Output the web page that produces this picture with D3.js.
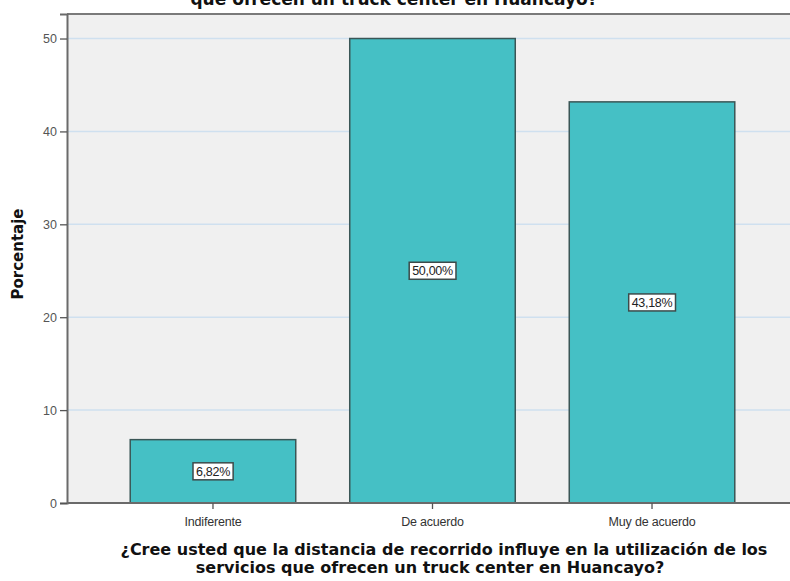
<!DOCTYPE html>
<html>
<head>
<meta charset="utf-8">
<script src="https://cdn.jsdelivr.net/npm/d3@7"></script>
<style>
  html, body { margin: 0; padding: 0; background: #ffffff; }
  svg { display: block; }
</style>
</head>
<body>
<div id="chart"></div>
<script>
// Response categories and their share of respondents (%)
const categories = ["Indiferente", "De acuerdo", "Muy de acuerdo"];
const percentages = [6.82, 50.00, 43.18];
const yTicks = [0, 10, 20, 30, 40, 50];
const titleLines = ["que ofrecen un truck center en Huancayo?"];
const xTitleLines = [
  "¿Cree usted que la distancia de recorrido influye en la utilización de los",
  "servicios que ofrecen un truck center en Huancayo?"
];
const yTitle = "Porcentaje";

const W = 790, H = 581;
const plot = { left: 67, right: 798, top: 14, bottom: 503 };

const svg = d3.select("#chart").append("svg")
  .attr("width", W).attr("height", H);

const x = d3.scaleBand()
  .domain(categories)
  .range([plot.left, plot.right])
  .paddingInner(0.246)
  .paddingOuter(0.288);

const y = d3.scaleLinear()
  .domain([0, 52.64])
  .range([plot.bottom, plot.top]);

// Plot background
svg.append("rect")
  .attr("x", plot.left).attr("y", plot.top)
  .attr("width", plot.right - plot.left)
  .attr("height", plot.bottom - plot.top)
  .attr("fill", "#f0f0f0");

// Horizontal grid lines
svg.append("g")
  .selectAll("line")
  .data(yTicks.filter(d => d > 0))
  .join("line")
  .attr("x1", plot.left).attr("x2", plot.right)
  .attr("y1", d => y(d)).attr("y2", d => y(d))
  .attr("stroke", "#cfe0ef")
  .attr("stroke-width", 1.5);

// Bars
svg.append("g")
  .selectAll("rect")
  .data(categories)
  .join("rect")
  .attr("x", d => x(d))
  .attr("y", (d, i) => y(percentages[i]))
  .attr("width", x.bandwidth())
  .attr("height", (d, i) => y(0) - y(percentages[i]))
  .attr("fill", "#45c0c5")
  .attr("stroke", "#3a5656")
  .attr("stroke-width", 1.5);

// Frame: top edge
svg.append("line")
  .attr("x1", plot.left).attr("x2", plot.right)
  .attr("y1", plot.top).attr("y2", plot.top)
  .attr("stroke", "#7a7a7a").attr("stroke-width", 2);

// Y axis
const yAxis = svg.append("g")
  .attr("transform", `translate(${plot.left},0)`)
  .call(d3.axisLeft(y).tickValues(yTicks).tickSize(7).tickPadding(3).tickFormat(d3.format("d")));
yAxis.select(".domain").attr("stroke", "#6a6a6a").attr("stroke-width", 2);
yAxis.selectAll(".tick line").attr("stroke", "#555").attr("stroke-width", 1.3);
yAxis.selectAll(".tick text")
  .attr("fill", "#555")
  .style("font-family", "'Liberation Sans', Arial, sans-serif")
  .style("font-size", "12.5px");

// X axis
const xAxis = svg.append("g")
  .attr("transform", `translate(0,${plot.bottom})`)
  .call(d3.axisBottom(x).tickSize(6).tickPadding(8).tickSizeOuter(0));
xAxis.select(".domain")
  .attr("d", `M${plot.left},0H${plot.right}`)
  .attr("stroke", "#6a6a6a").attr("stroke-width", 2);
xAxis.selectAll(".tick line").attr("stroke", "#555").attr("stroke-width", 1.3);
xAxis.selectAll(".tick text")
  .attr("fill", "#333")
  .style("font-family", "'Liberation Sans', Arial, sans-serif")
  .style("font-size", "12.5px")
  .style("letter-spacing", "-0.2px");

// Value labels in boxes at the middle of each bar
const fmt = v => d3.format(".2f")(v).replace(".", ",") + "%";
const labels = svg.append("g")
  .selectAll("g")
  .data(categories)
  .join("g")
  .attr("transform", (d, i) =>
    `translate(${x(d) + x.bandwidth() / 2},${(y(percentages[i]) + y(0)) / 2})`);
labels.append("text")
  .attr("text-anchor", "middle")
  .attr("dy", "0.36em")
  .attr("fill", "#222")
  .style("font-family", "'Liberation Sans', Arial, sans-serif")
  .style("font-size", "12.5px")
  .style("letter-spacing", "-0.3px")
  .text((d, i) => fmt(percentages[i]));
labels.each(function () {
  const g = d3.select(this);
  const bb = g.select("text").node().getBBox();
  g.insert("rect", "text")
    .attr("x", bb.x - 3).attr("y", -8.5)
    .attr("width", bb.width + 6).attr("height", 17)
    .attr("fill", "#ffffff")
    .attr("stroke", "#3c4a4a")
    .attr("stroke-width", 1.5);
});

// Chart title (only its last line reaches the canvas)
svg.append("g")
  .selectAll("text")
  .data(titleLines)
  .join("text")
  .attr("x", 394)
  .attr("y", 5)
  .attr("text-anchor", "middle")
  .attr("fill", "#111")
  .style("font-family", "'DejaVu Sans', Verdana, sans-serif")
  .style("font-weight", "bold")
  .style("font-size", "17px")
  .text(d => d);

// Y axis title
svg.append("text")
  .attr("transform", "translate(23,254) rotate(-90)")
  .attr("text-anchor", "middle")
  .attr("fill", "#111")
  .style("font-family", "'DejaVu Sans', Verdana, sans-serif")
  .style("font-weight", "bold")
  .style("font-size", "15px")
  .text(yTitle);

// X axis title, two centred lines
const xTitleCenters = [444, 430];
svg.append("g")
  .selectAll("text")
  .data(xTitleLines)
  .join("text")
  .attr("x", (d, i) => xTitleCenters[i])
  .attr("y", (d, i) => 555 + i * 18)
  .attr("text-anchor", "middle")
  .attr("fill", "#111")
  .style("font-family", "'DejaVu Sans', Verdana, sans-serif")
  .style("font-weight", "bold")
  .style("font-size", "16px")
  .text(d => d);
</script>
</body>
</html>
